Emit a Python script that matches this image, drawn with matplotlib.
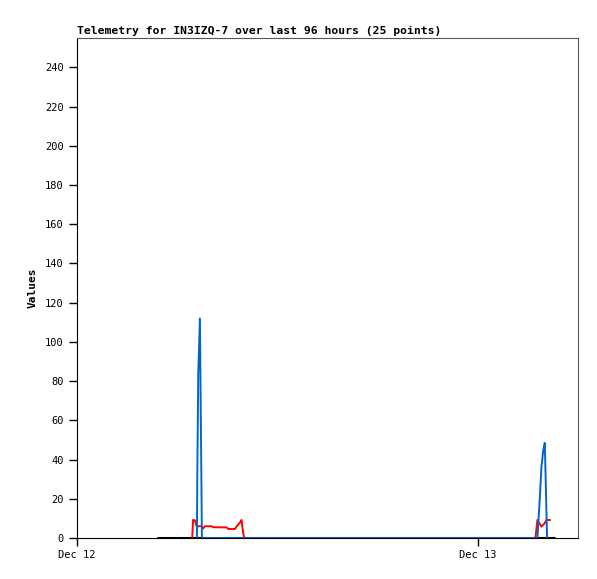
import matplotlib
matplotlib.use("Agg")
import matplotlib.pyplot as plt

# hours since Dec 12 00:00
zero_hours = [4.79, 28.6]
zero_vals = [0, 0]

red_hours = [6.90, 6.95, 7.06, 7.16, 7.46, 7.56, 7.66, 8.06, 8.16, 8.96, 9.06,
             9.46, 9.56, 9.76, 9.85, 9.95, 10.01,
             27.45, 27.57, 27.81, 28.01, 28.11, 28.31]
red_vals = [0, 9.2, 9.0, 6.0, 6.0, 4.9, 6.0, 6.0, 5.5, 5.4, 4.6,
            4.6, 5.9, 7.9, 9.2, 2.7, 0,
            0, 9.2, 5.8, 7.6, 9.2, 9.2]

blue_hours = [7.18, 7.20, 7.26, 7.36, 7.42, 7.48, 27.57, 27.71, 27.81, 27.91,
              28.01, 28.07, 28.11, 28.15]
blue_vals = [0, 28, 84, 112, 56, 0, 0, 20, 36, 44, 48.5, 28, 13, 0]

yticks = list(range(0, 241, 20))
xticks = [0, 24]
xlabels = ["Dec 12", "Dec 13"]

plt.rcParams['font.family'] = ['DejaVu Sans Mono']

fig = plt.figure(figsize=(5.97, 5.79), dpi=100)
ax = fig.add_axes([77/597, 41/579, 501/597, 500/579])

ax.plot(zero_hours, zero_vals, color='black', lw=2.2, solid_capstyle='butt')
ax.plot(red_hours, red_vals, color='#ff0000', lw=1.4)
ax.plot(blue_hours, blue_vals, color='#0066cc', lw=1.4)

ax.set_xlim(0, 30)
ax.set_ylim(0, 255)
ax.set_yticks(yticks)
ax.set_xticks(xticks)
ax.set_xticklabels(xlabels)
ax.tick_params(axis='both', direction='out', length=6, width=1, labelsize=7.5, colors='black')
ax.tick_params(axis='x', pad=3)

for s in ['top', 'right']:
    ax.spines[s].set_color('#555555')
for s in ['left', 'bottom']:
    ax.spines[s].set_color('black')

ax.set_ylabel('Values', fontsize=8, fontweight='bold', labelpad=5)
ax.set_title('Telemetry for IN3IZQ-7 over last 96 hours (25 points)', loc='left',
             fontsize=8.2, fontweight='bold', pad=3)

fig.savefig('out.png', dpi=100)
